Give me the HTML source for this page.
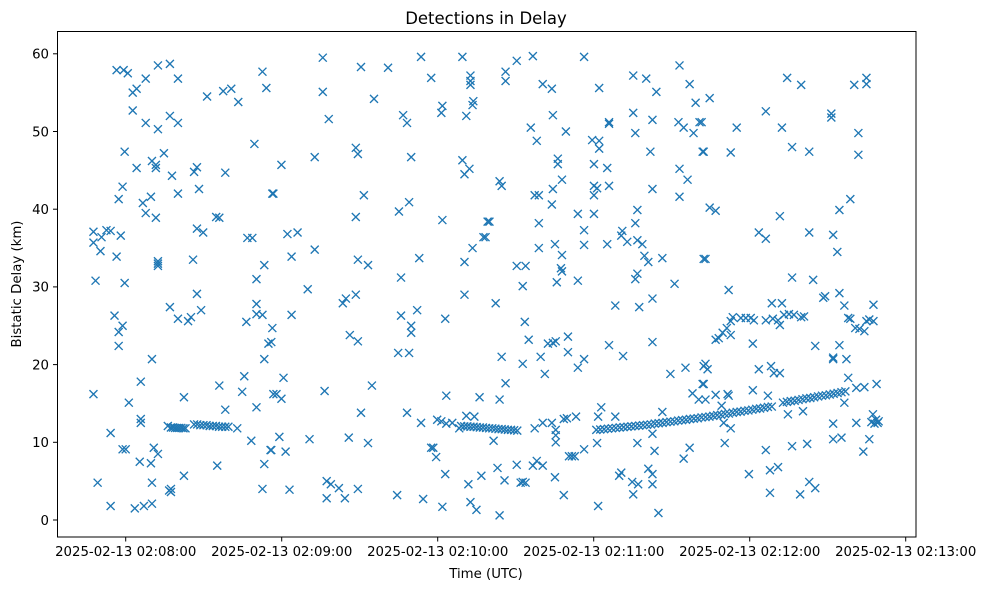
<!DOCTYPE html>
<html><head><meta charset="utf-8"><title>Detections in Delay</title>
<style>
html,body{margin:0;padding:0;background:#fff;}
svg{display:block;font-family:"DejaVu Sans","Liberation Sans",sans-serif;}
</style></head>
<body>
<svg id="chart" width="989" height="590" viewBox="0 0 989 590" xmlns="http://www.w3.org/2000/svg">
<rect x="0" y="0" width="989" height="590" fill="#fff"/>
<text x="486" y="24" font-size="16.5" text-anchor="middle" fill="#000">Detections in Delay</text>
<text x="486" y="578" font-size="13.3" text-anchor="middle" fill="#000">Time (UTC)</text>
<text transform="translate(21,284) rotate(-90)" font-size="13.3" text-anchor="middle" fill="#000">Bistatic Delay (km)</text>
<g id="marks"></g>
<g id="axes"></g>
<rect x="57.5" y="31.5" width="858.5" height="505.5" fill="none" stroke="#000" stroke-width="1"/>
</svg>
<script>
// seconds since 02:07:00
const times = [
56.5,59.2,60.8,67.7,64.2,62.7,72.4,77.0,80.1,62.7,67.7,72.4,77.0,80.1,91.3,97.5,100.6,103.3,112.6,114.1,109.5,59.6,64.2,70.1,71.6,71.6,74.7,77.8,86.3,87.4,98.3,58.8,57.3,80.1,88.2,66.6,69.7,67.7,71.6,116.4,94.8,96.0,47.6,47.6,50.3,50.7,52.6,54.2,58.1,56.5,72.4,72.4,72.4,87.4,89.8,85.9,106.8,108.7,113.3,48.4,59.6,110.3,87.4,77.0,80.1,84.0,85.1,89.0,55.7,58.8,57.3,57.3,110.3,110.3,112.6,106.4,116.4,114.9,116.0,113.3,70.1,105.6,65.8,104.8,47.6,82.4,96.0,61.2,98.3,110.3,116.8,65.8,65.8,54.2,76.2,
77.4,78.2,79.0,79.8,80.6,81.4,82.2,83.0,
86.3,87.5,88.7,89.9,91.1,92.3,93.5,94.7,95.9,97.1,98.3,99.5,
102.9,108.3,115.7,58.8,60.0,70.8,72.4,65.4,69.7,95.2,113.3,49.2,70.1,82.4,77.4,77.4,76.7,112.6,54.2,63.5,67.0,70.1,
135.8,135.8,150.5,160.9,173.6,189.5,177.5,192.6,192.6,192.6,155.5,138.1,166.7,168.2,181.8,181.4,193.7,193.4,191.0,119.9,132.7,148.5,149.3,169.8,189.5,192.2,190.3,116.8,151.6,165.1,169.0,148.5,181.8,199.2,122.2,126.1,197.6,193.4,123.8,132.7,149.3,153.2,172.9,190.3,165.9,130.0,143.5,144.7,148.5,190.3,123.8,165.9,172.1,182.9,169.8,169.8,146.2,149.3,164.8,169.0,120.7,136.5,154.7,118.0,119.9,183.3,196.1,150.5,168.2,173.6,179.8,181.4,183.3,185.6,188.3,191.0,194.1,
119.1,130.7,145.8,153.2,116.0,121.5,177.5,178.3,179.4,182.9,191.8,196.8,123.0,137.3,138.9,142.0,137.3,144.3,149.3,164.4,174.4,181.8,192.6,194.9,
189.0,190.2,191.4,192.6,193.8,195.0,196.2,197.4,198.6,199.8,201.0,202.2,203.4,204.6,205.8,207.0,208.2,209.4,210.6,
210.4,216.6,236.3,206.1,206.1,220.4,223.9,242.1,255.2,260.2,264.1,273.0,276.9,279.2,224.3,215.8,218.1,229.3,245.9,245.9,239.4,242.1,242.1,255.2,256.0,262.6,272.6,274.6,278.4,280.7,261.8,281.9,226.2,226.2,240.1,245.2,203.8,204.6,227.8,224.3,217.3,218.9,240.1,241.3,240.1,245.9,262.6,273.0,276.1,273.0,223.9,233.9,240.1,256.8,256.0,199.9,218.9,236.3,198.4,218.9,225.1,227.8,236.3,245.2,251.0,250.6,252.9,256.8,258.7,259.5,261.0,266.4,282.3,210.4,213.8,212.7,227.4,227.8,225.8,233.9,256.8,256.0,271.1,202.3,248.3,257.5,262.6,213.5,215.0,222.4,224.3,225.4,230.1,230.1,245.9,251.3,262.6,204.6,212.7,219.6,221.2,233.9,236.3,269.5,275.3,282.3,206.1,203.8,278.0,280.4,281.9,
217.3,220.4,223.9,225.4,225.4,225.4,228.5,229.7,233.2,241.7,242.9,248.3,266.4,201.5,230.5,231.6,232.7,236.3,241.3,256.8,262.6,263.4,274.6,276.9,
203.0,205.7,210.4,211.9,212.7,213.8,216.6,218.1,220.4,225.1,228.5,241.7,203.8,249.8,250.6,254.8,255.2,257.1,261.0,262.6,262.6,264.9,
241.0,242.5,244.0,245.5,247.0,248.5,250.0,251.5,253.0,254.5,256.0,257.5,259.0,260.5,262.0,263.5,265.0,266.5,268.0,269.5,271.0,272.5,274.0,275.5,277.0,278.5,280.0,281.5,283.0,284.5,286.0,287.5,289.0,290.5,292.0,293.5,295.0,296.5,298.0,299.5,301.0,302.5,304.0,305.5,307.0,308.5,
312.8,314.3,315.8,317.3,318.8,320.3,321.8,323.3,324.8,326.3,327.8,329.3,330.8,332.3,333.8,335.3,336.8,
314.4,319.8,340.2,344.9,344.9,284.6,306.2,331.4,331.4,281.5,295.0,312.4,341.8,282.3,292.7,316.3,322.9,341.8,338.7,334.5,284.6,286.9,311.6,303.5,306.2,322.9,332.1,333.7,283.0,316.3,324.4,291.9,328.3,329.0,334.5,336.4,347.6,308.5,312.4,
286.9,288.1,289.6,291.2,292.7,293.5,296.6,298.5,300.4,301.6,306.2,308.9,310.9,311.6,313.2,315.1,317.0,319.8,320.9,
337.9,338.7,340.6,342.2,344.1,344.9,346.0,347.6,
292.7,301.2,325.2,334.5,332.1,332.1,337.2,283.0,283.8,303.5,308.2,309.3,311.6,337.9,341.0,344.1,348.8,282.3,283.0,286.9,291.5,291.9,301.2,307.0,336.4,289.2,290.0,292.7,290.4,314.7,320.5,332.1,341.0,
346.8,347.4,348.0,348.6,349.2,349.6,
332.1,335.3,346.0,343.7,306.2,316.3,322.1,299.7,307.8,310.9,307.8,319.4,322.9,325.2
];
const delays = [
57.9,57.9,57.5,56.8,55.5,55.0,58.5,58.7,56.8,52.7,51.1,50.3,52.0,51.1,54.5,55.2,55.5,53.8,57.7,55.6,48.4,47.4,45.3,46.2,45.7,45.3,47.2,44.3,44.8,45.4,44.7,42.9,41.3,42.0,42.6,40.8,41.6,39.5,38.9,42.0,39.0,38.9,37.1,35.7,34.6,36.4,37.3,37.2,36.6,33.9,33.0,33.3,32.7,37.5,37.0,33.5,36.3,36.3,32.8,30.8,30.5,31.0,29.1,27.4,25.9,25.6,26.1,27.0,26.3,25.0,24.2,22.4,27.8,26.5,26.4,25.5,24.7,22.7,22.9,20.7,20.7,18.5,17.8,16.5,16.2,15.8,17.3,15.1,14.2,14.5,16.2,13.0,12.5,11.2,12.1,
11.9,11.9,11.85,11.85,11.85,11.85,11.8,11.8,
12.3,12.3,12.2,12.2,12.2,12.1,12.1,12.1,12.0,12.0,12.0,12.0,
11.8,10.2,9.0,9.1,9.1,9.3,8.5,7.5,7.3,7.0,7.2,4.8,4.8,5.7,4.0,3.6,3.8,4.0,1.8,1.5,1.8,2.1,
59.5,55.1,58.3,58.2,59.6,59.6,56.9,57.2,56.5,56.0,54.2,51.6,52.1,51.1,53.3,52.4,53.9,53.4,52.0,45.7,46.7,47.9,47.1,46.7,46.3,45.2,44.5,42.0,41.8,39.7,40.9,39.0,38.6,38.4,36.8,37.0,36.4,35.0,33.9,34.8,33.5,32.8,33.7,33.2,31.2,29.7,27.9,28.5,29.0,29.0,26.4,26.3,27.0,25.9,25.0,24.1,23.8,23.0,21.5,21.5,18.3,16.6,17.3,16.2,15.6,16.0,15.8,13.8,13.8,12.5,12.9,12.7,12.4,12.5,11.8,13.4,13.3,
10.7,10.4,10.6,9.9,9.0,8.8,9.3,9.3,8.1,5.9,4.6,5.7,3.9,5.0,4.6,4.1,2.8,2.8,4.0,3.2,2.7,1.7,2.3,1.3,
12.1,12.05,12.05,12.0,12.0,11.95,11.9,11.9,11.85,11.8,11.8,11.75,11.7,11.7,11.65,11.6,11.6,11.55,11.5,
59.1,59.7,59.6,57.7,56.5,56.1,55.5,55.6,57.2,56.8,55.1,58.5,56.1,53.7,52.1,50.5,48.8,50.0,51.0,51.2,48.9,48.8,47.8,52.4,49.8,51.5,51.2,50.5,49.8,51.2,47.4,47.4,46.5,45.8,45.8,45.3,43.6,43.0,43.8,42.6,41.8,41.8,43.0,42.7,41.8,43.0,42.6,45.2,43.8,41.6,40.6,39.4,39.4,39.9,38.2,38.4,38.2,37.3,36.4,35.0,35.5,34.1,35.4,35.5,37.2,36.6,35.8,36.0,35.5,34.0,33.2,33.7,33.6,32.7,32.7,30.1,32.4,32.0,30.6,30.8,31.7,31.0,30.4,27.9,27.6,27.4,28.5,25.5,23.2,22.7,22.8,23.0,23.6,21.6,22.5,21.1,22.9,21.0,20.1,21.0,18.8,19.6,20.7,18.8,19.6,19.8,17.6,15.5,16.3,15.5,17.5,
11.8,12.5,12.5,11.6,10.9,10.0,13.0,13.1,13.3,13.3,14.5,13.3,13.9,10.2,8.2,8.2,8.2,9.1,9.9,9.9,11.1,8.9,7.9,9.3,
6.7,5.1,7.1,4.8,4.9,4.8,7.0,7.6,7.0,5.5,3.2,1.8,0.6,5.7,6.1,4.9,3.3,4.6,6.6,5.9,4.6,0.9,
11.6,11.65,11.7,11.75,11.8,11.85,11.9,11.95,12.0,12.05,12.1,12.15,12.2,12.25,12.3,12.4,12.45,12.5,12.6,12.65,12.7,12.8,12.85,12.9,13.0,13.05,13.1,13.2,13.25,13.3,13.4,13.5,13.55,13.65,13.7,13.8,13.9,13.95,14.05,14.1,14.2,14.3,14.35,14.45,14.55,14.6,
15.1,15.2,15.3,15.35,15.45,15.55,15.65,15.7,15.8,15.9,16.0,16.05,16.15,16.25,16.35,16.45,16.55,
56.9,56.0,56.0,56.9,56.1,54.3,52.6,52.3,51.8,51.2,50.5,50.5,49.8,47.4,47.3,48.0,47.4,47.0,41.3,39.9,40.2,39.8,39.1,37.0,36.2,37.0,36.7,34.5,33.6,31.2,30.9,29.6,28.6,28.8,29.2,27.6,27.7,27.9,27.9,
23.2,23.4,24.1,24.7,25.6,26.1,26.0,26.0,26.0,25.7,25.7,25.9,25.7,25.1,26.4,26.5,26.4,26.1,26.2,
26.0,25.9,24.7,24.6,24.3,25.6,25.8,25.6,
23.8,22.7,22.4,22.5,20.7,20.9,20.7,20.1,19.4,19.4,19.8,18.9,18.9,18.3,17.0,17.1,17.5,17.5,15.5,16.1,16.2,16.0,16.7,16.0,15.1,14.7,12.5,11.8,9.9,13.6,14.0,12.4,12.5,
12.6,13.6,12.4,12.9,12.5,12.7,
10.4,10.6,10.4,8.8,9.0,9.5,9.8,5.9,6.4,6.8,3.5,3.3,4.9,4.1
];
const xTickSeconds = [60,120,180,240,300,360];
const xTickLabels = ["2025-02-13 02:08:00","2025-02-13 02:09:00","2025-02-13 02:10:00","2025-02-13 02:11:00","2025-02-13 02:12:00","2025-02-13 02:13:00"];
const yTicks = [0,10,20,30,40,50,60];

const NS = "http://www.w3.org/2000/svg";
function xScale(t){ return 125.7 + (t - 60) * 2.6; }
function yScale(v){ return 520 - v * 7.77; }

const marks = document.getElementById('marks');
const n = Math.min(times.length, delays.length);
for (let i = 0; i < n; i++) {
  const cx = xScale(times[i]), cy = yScale(delays[i]);
  const p = document.createElementNS(NS, 'path');
  p.setAttribute('d', `M${cx-4},${cy-4}L${cx+4},${cy+4}M${cx-4},${cy+4}L${cx+4},${cy-4}`);
  p.setAttribute('stroke', '#1f77b4');
  p.setAttribute('stroke-width', '1.35');
  p.setAttribute('fill', 'none');
  
  
  marks.appendChild(p);
}

const axes = document.getElementById('axes');
xTickSeconds.forEach((t, i) => {
  const x = xScale(t);
  const l = document.createElementNS(NS, 'line');
  l.setAttribute('x1', x); l.setAttribute('x2', x);
  l.setAttribute('y1', 537); l.setAttribute('y2', 541.5);
  l.setAttribute('stroke', '#000'); l.setAttribute('stroke-width', '1');
  
  
  axes.appendChild(l);
  const tx = document.createElementNS(NS, 'text');
  tx.setAttribute('x', x); tx.setAttribute('y', 556);
  tx.setAttribute('font-size', '13.3');
  tx.setAttribute('text-anchor', 'middle');
  tx.textContent = xTickLabels[i];
  
  
  axes.appendChild(tx);
});
yTicks.forEach(v => {
  const y = yScale(v);
  const l = document.createElementNS(NS, 'line');
  l.setAttribute('x1', 53); l.setAttribute('x2', 57.5);
  l.setAttribute('y1', y); l.setAttribute('y2', y);
  l.setAttribute('stroke', '#000'); l.setAttribute('stroke-width', '1');
  
  
  axes.appendChild(l);
  const tx = document.createElementNS(NS, 'text');
  tx.setAttribute('x', 49); tx.setAttribute('y', y + 4.8);
  tx.setAttribute('font-size', '13.3');
  tx.setAttribute('text-anchor', 'end');
  tx.textContent = String(v);
  
  
  axes.appendChild(tx);
});
</script>
</body></html>
